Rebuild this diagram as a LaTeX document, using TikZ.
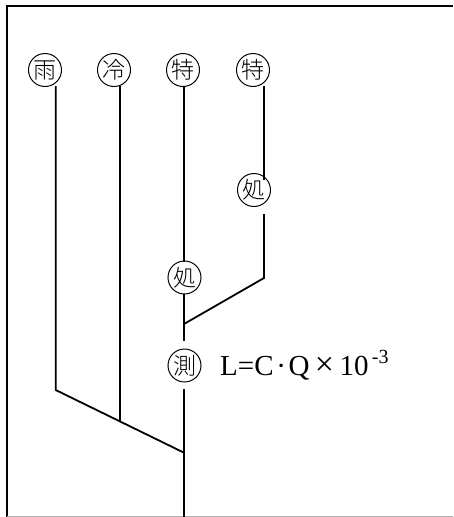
\documentclass[tikz,border=0pt]{standalone}
\usepackage{fontspec}
\setmainfont{Liberation Serif}
\newfontfamily\cjk{Noto Sans CJK JP Light}
\begin{document}
\begin{tikzpicture}[x=1pt,y=-1pt,
  circ/.style={circle,draw,line width=1pt,minimum size=33pt,inner sep=0pt,font=\cjk\fontsize{23}{23}\selectfont},
  wire/.style={line width=1.8pt},
  frame/.style={line width=2pt}]
\useasboundingbox (0,0) rectangle (453,517);
\draw[frame] (7.3,517) -- (7.3,5.5) -- (453,5.5);
\draw[line width=1.5pt,gray!60] (7.3,516.3) -- (453,516.3);
% nodes
\node[circ] (u) at (45,70) {雨};
\node[circ] (r) at (114,70) {冷};
\node[circ] (t1) at (183,70) {特};
\node[circ] (t2) at (253,70) {特};
\node[circ] (s2) at (254,190) {処};
\node[circ] (s1) at (184.5,277.5) {処};
\node[circ] (m) at (184.5,365.5) {測};
\node[anchor=base west,inner sep=0pt,font=\fontsize{29}{29}\selectfont] (f) at (220,375.5)
  {L=C\makebox[15pt][c]{·}Q\makebox[30pt][c]{\fontsize{34}{34}\selectfont×}10\raisebox{0.4em}{\fontsize{20}{20}\selectfont\,-3}};
% coordinates
\coordinate (ua) at (55.7,86);
\coordinate (ub) at (55.7,390);
\coordinate (ra) at (120,86);
\coordinate (rb) at (120,421.5);
\coordinate (t1a) at (184,86);
\coordinate (t1b) at (184,261.5);
\coordinate (s1a) at (184,294);
\coordinate (j1) at (184,324);
\coordinate (ma) at (184,341);
\coordinate (t2a) at (264,86);
\coordinate (t2b) at (264,180);
\coordinate (s2a) at (264,214);
\coordinate (s2b) at (264,278);
\coordinate (mb) at (184,389);
\coordinate (j2) at (184,452.7);
\coordinate (end) at (184,517);
% wires
\draw[wire] (ua) -- (ub) -- (j2);
\draw[wire] (ra) -- (rb);
\draw[wire] (t1a) -- (t1b);
\draw[wire] (s1a) -- (ma);
\draw[wire] (t2a) -- (t2b);
\draw[wire] (s2a) -- (s2b) -- (j1);
\draw[wire] (mb) -- (end);
\end{tikzpicture}
\end{document}
